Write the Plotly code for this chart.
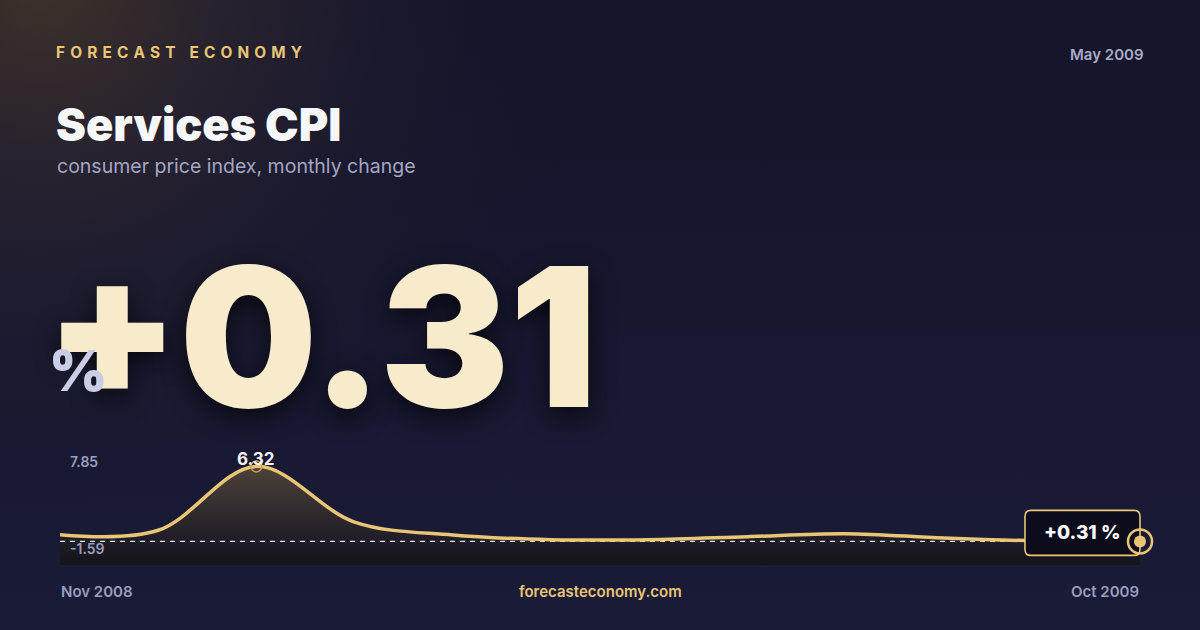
"""Services CPI card: headline number with a small monthly sparkline."""

import base64

import plotly.graph_objects as go

months = ["Nov 2008", "Dec 2008", "Jan 2009", "Feb 2009", "Mar 2009", "Apr 2009",
          "May 2009", "Jun 2009", "Jul 2009", "Aug 2009", "Sep 2009", "Oct 2009"]
cpi_change = [0.85, 1.2, 6.32, 1.86, 0.82, 0.45, 0.45, 0.69, 0.93, 0.58, 0.35, 0.31]
axis_min = -1.59
axis_max = 7.85
headline = "+0.31"
as_of = "May 2009"

GOLD = "#E9C676"
MUTED = "#9A9DBD"
FONT = "Inter"
HEAVY = "Inter Black, Inter ExtraBold, Inter"

peak_idx = cpi_change.index(max(cpi_change))
last = cpi_change[-1]
last_pos = len(months) - 1

# background: navy with a warm glow in the top-left corner
bg_svg = """<svg xmlns='http://www.w3.org/2000/svg' width='1200' height='630'>
<defs>
<linearGradient id='b' x1='0' y1='0' x2='0' y2='1'>
<stop offset='0' stop-color='#14142a'/><stop offset='1' stop-color='#1a1b36'/>
</linearGradient>
<radialGradient id='g' gradientUnits='userSpaceOnUse' cx='40' cy='-20' r='560'>
<stop offset='0' stop-color='#3e3229' stop-opacity='1'/>
<stop offset='0.45' stop-color='#2a2430' stop-opacity='0.6'/>
<stop offset='1' stop-color='#14142a' stop-opacity='0'/>
</radialGradient>
</defs>
<rect width='1200' height='630' fill='url(#b)'/>
<rect width='1200' height='630' fill='url(#g)'/>
</svg>"""
bg_uri = "data:image/svg+xml;base64," + base64.b64encode(bg_svg.encode()).decode()

fig = go.Figure()

# invisible floor so the area fill runs down to the bottom of the plot
fig.add_trace(go.Scatter(x=months, y=[axis_min] * len(months), mode="lines",
                         line=dict(width=0), hoverinfo="skip", showlegend=False))
fig.add_trace(go.Scatter(
    x=months, y=cpi_change, mode="lines", fill="tonexty",
    line=dict(width=0, shape="spline", smoothing=1),
    fillgradient=dict(type="vertical", start=axis_min, stop=max(cpi_change),
                      colorscale=[[0, "#141319"], [0.3, "#221f28"], [1, "#4d4139"]]),
    hoverinfo="skip", showlegend=False,
))
# dashed reference at the latest reading
fig.add_trace(go.Scatter(x=[months[0], months[-1]], y=[last, last], mode="lines",
                         line=dict(color="rgba(255,255,255,0.9)", width=1.2, dash="5px,5px"),
                         hoverinfo="skip", showlegend=False))
fig.add_trace(go.Scatter(x=months, y=cpi_change, mode="lines",
                         line=dict(color=GOLD, width=3.5, shape="spline", smoothing=1),
                         showlegend=False))
# peak marker
fig.add_trace(go.Scatter(x=[months[peak_idx]], y=[cpi_change[peak_idx]], mode="markers",
                         marker=dict(size=11, color="rgba(0,0,0,0)", line=dict(color="#C9A24E", width=1.5)),
                         showlegend=False))

# callout box, ring and dot pinned to the last point (pixel offsets)
rounded_box = ("M -109,-14 L -6,-14 Q 0,-14 0,-8 L 0,25 Q 0,31 -6,31 "
               "L -109,31 Q -115,31 -115,25 L -115,-8 Q -115,-14 -109,-14 Z")
fig.add_shape(type="path", path=rounded_box, xref="x", yref="y",
              xsizemode="pixel", ysizemode="pixel", xanchor=last_pos, yanchor=last,
              fillcolor="#0c0c1d", line=dict(color=GOLD, width=1.6), layer="above")
fig.add_shape(type="circle", xref="x", yref="y", xsizemode="pixel", ysizemode="pixel",
              xanchor=last_pos, yanchor=last, x0=-12, x1=12, y0=-12, y1=12,
              line=dict(color=GOLD, width=2.5), fillcolor="rgba(0,0,0,0)", layer="above")
fig.add_shape(type="circle", xref="x", yref="y", xsizemode="pixel", ysizemode="pixel",
              xanchor=last_pos, yanchor=last, x0=-6, x1=6, y0=-6, y1=6,
              line=dict(width=0), fillcolor=GOLD, layer="above")
fig.add_annotation(x=months[-1], y=last, text=f"{headline} %", showarrow=False,
                   xanchor="center", yanchor="middle", yshift=9, xshift=-58,
                   font=dict(family=FONT, size=19, color="#FFFFFF", weight=800))

fig.add_annotation(x=months[peak_idx], y=cpi_change[peak_idx], text=f"{cpi_change[peak_idx]:.2f}",
                   showarrow=False, yshift=7, font=dict(family=FONT, size=17, color="#F4F4F8", weight=700))

# axis range labels
fig.add_annotation(x=0.057, y=0.267, xref="paper", yref="paper", text=f"{axis_max:.2f}",
                   showarrow=False, xanchor="left", yanchor="middle",
                   font=dict(family=FONT, size=14, color=MUTED, weight=600))
fig.add_annotation(x=0.057, y=0.130, xref="paper", yref="paper", text=f"{axis_min:.2f}",
                   showarrow=False, xanchor="left", yanchor="middle",
                   font=dict(family=FONT, size=14, color=MUTED, weight=600))

# header
spacer = "\u2004"
brand = spacer.join("FORECAST") + spacer + " " + spacer + spacer.join("ECONOMY")
fig.add_annotation(x=0.045, y=0.916, xref="paper", yref="paper", text=brand,
                   showarrow=False, xanchor="left", yanchor="middle",
                   font=dict(family=FONT, size=15.4, color=GOLD, weight=700))
fig.add_annotation(x=0.955, y=0.914, xref="paper", yref="paper", text=as_of,
                   showarrow=False, xanchor="right", yanchor="middle",
                   font=dict(family=FONT, size=15, color="#A9ACC8", weight=600))
fig.add_annotation(x=0.045, y=0.803, xref="paper", yref="paper", text="Services CPI",
                   showarrow=False, xanchor="left", yanchor="middle",
                   font=dict(family=HEAVY, size=45, color="#F6F7FB", weight=900))
fig.add_annotation(x=0.0455, y=0.736, xref="paper", yref="paper",
                   text="consumer price index, monthly change",
                   showarrow=False, xanchor="left", yanchor="middle",
                   font=dict(family=FONT, size=19.5, color="#A3A6C4", weight=400))

# headline number
fig.add_annotation(x=0.036, y=0.466, xref="paper", yref="paper", text=headline,
                   showarrow=False, xanchor="left", yanchor="middle",
                   font=dict(family=HEAVY, size=194, color="#F8EBCB", weight=900,
                             shadow="0px 8px 24px rgba(0,0,0,0.65)"))
fig.add_annotation(x=0.039, y=0.411, xref="paper", yref="paper", text="%",
                   showarrow=False, xanchor="left", yanchor="middle",
                   font=dict(family=HEAVY, size=56, color="#C9CDE6", weight=900))

# footer
fig.add_annotation(x=0.049, y=0.061, xref="paper", yref="paper", text=months[0],
                   showarrow=False, xanchor="left", yanchor="middle",
                   font=dict(family=FONT, size=15, color=MUTED, weight=600))
fig.add_annotation(x=0.5, y=0.061, xref="paper", yref="paper", text="forecasteconomy.com",
                   showarrow=False, xanchor="center", yanchor="middle",
                   font=dict(family=FONT, size=15, color=GOLD, weight=600))
fig.add_annotation(x=0.951, y=0.061, xref="paper", yref="paper", text=months[-1],
                   showarrow=False, xanchor="right", yanchor="middle",
                   font=dict(family=FONT, size=15, color=MUTED, weight=600))

# x domain runs a little past the last point so its ring is not clipped
fig.update_layout(
    width=1200, height=630,
    margin=dict(l=0, r=0, t=0, b=0),
    paper_bgcolor="#16172e", plot_bgcolor="rgba(0,0,0,0)",
    images=[dict(source=bg_uri, xref="paper", yref="paper", x=0, y=1, sizex=1, sizey=1,
                 sizing="stretch", layer="below", xanchor="left", yanchor="top")],
    xaxis=dict(domain=[0.05, 1160 / 1200], visible=False, range=[0, last_pos * 1100 / 1080],
               fixedrange=True),
    yaxis=dict(domain=[0.103, 0.29], visible=False, range=[axis_min, axis_max], fixedrange=True),
    showlegend=False,
)

fig.write_html("out.html", config={"displayModeBar": False},
               post_script="document.body.style.margin='0';document.body.style.overflow='hidden';")
